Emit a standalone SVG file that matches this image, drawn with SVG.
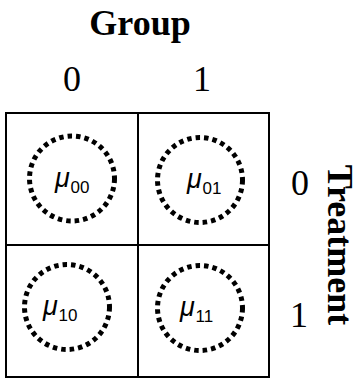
<svg xmlns="http://www.w3.org/2000/svg" width="359" height="379" viewBox="0 0 359 379">
<style>
.lbl{font-family:"Liberation Serif","Times New Roman",serif;font-size:36px;fill:#000;text-anchor:middle}
.b{font-weight:bold}
.cell{fill:none;stroke:#000;stroke-width:2}
.dot{fill:none;stroke:#000;stroke-width:5;stroke-dasharray:4.5 4}
.mu{font-family:"Liberation Sans",Arial,sans-serif;font-style:italic;font-size:27px;fill:#000}
.sub{font-family:"Liberation Sans",Arial,sans-serif;font-size:17px;fill:#000}
</style>
<rect width="359" height="379" fill="#fff"/>
<text class="lbl b" x="140" y="35">Group</text>
<text class="lbl" x="72" y="91">0</text>
<text class="lbl" x="202" y="91">1</text>
<text class="lbl" x="300" y="195">0</text>
<text class="lbl" x="299" y="327">1</text>
<text class="lbl b" transform="translate(328,245) rotate(90)">Treatment</text>
<g id="n00">
<rect class="cell" x="6" y="113" width="132" height="132"/>
<circle class="dot" cx="72" cy="178.5" r="42.5"/>
<text class="mu" x="55" y="187">μ</text><text class="sub" x="70.5" y="193">00</text>
</g>
<g id="n01">
<rect class="cell" x="138" y="113" width="131" height="132"/>
<circle class="dot" cx="200" cy="180" r="42.5"/>
<text class="mu" x="187" y="188">μ</text><text class="sub" x="202.5" y="194">01</text>
</g>
<g id="n10">
<rect class="cell" x="6" y="245" width="132" height="132"/>
<circle class="dot" cx="67" cy="307" r="42.5"/>
<text class="mu" x="43" y="315">μ</text><text class="sub" x="58.5" y="321">10</text>
</g>
<g id="n11">
<rect class="cell" x="138" y="245" width="131" height="132"/>
<circle class="dot" cx="200" cy="308" r="42.5"/>
<text class="mu" x="180" y="316">μ</text><text class="sub" x="195.5" y="322">11</text>
</g>
<g id="connectors"/>
</svg>
